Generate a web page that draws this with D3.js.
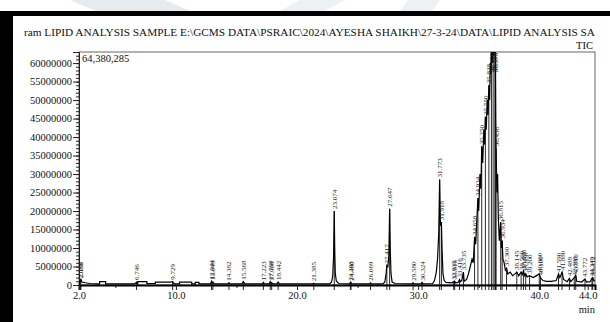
<!DOCTYPE html>
<html>
<head>
<meta charset="utf-8">
<script src="https://cdn.jsdelivr.net/npm/d3@7"></script>
<style>
html,body{margin:0;padding:0;background:#fff;}
svg{display:block;}
text{font-family:"Liberation Serif","Times New Roman",serif;}
</style>
</head>
<body>
<svg id="chart" width="610" height="322"></svg>
<script>
// ---------------- DATA ----------------
const titleText = "ram LIPID ANALYSIS SAMPLE E:\\GCMS DATA\\PSRAIC\\2024\\AYESHA SHAIKH\\27-3-24\\DATA\\LIPID ANALYSIS SA";
const detectorLabel = "TIC";
const maxIntensityLabel = "64,380,285";
const xUnitLabel = "min";

const xTickValues = [2, 10, 20, 30, 40, 44];
const xMinorTicks = [5, 15, 25, 35];
const yTickValues = [0, 5000000, 10000000, 15000000, 20000000, 25000000, 30000000,
                     35000000, 40000000, 45000000, 50000000, 55000000, 60000000];

// TIC trace: retention time (min) and intensity
const traceTimes = [
 2.0, 2.05, 2.088, 2.12, 2.16, 2.25, 2.5, 2.9, 3.5,
 3.7, 3.7, 4.2, 4.2, 6.6, 6.746, 6.85, 6.85, 7.6, 7.6, 8.3, 8.3, 9.55, 9.729, 9.85,
 10.3, 10.3, 11.3, 11.3, 11.6, 11.6, 11.9, 11.9,
 12.85, 12.944, 13.0, 13.049, 13.15, 14.3, 14.382, 14.45, 15.45, 15.568, 15.7,
 17.15, 17.223, 17.3, 17.7, 17.788, 17.85, 17.908, 18.0, 18.35, 18.442, 18.55,
 21.3, 21.385, 21.45, 22.7, 22.85, 22.95, 23.02, 23.074, 23.11, 23.16, 23.25, 23.45,
 24.35, 24.398, 24.43, 24.46, 24.52, 26.0, 26.069, 26.13,
 27.1, 27.25, 27.35, 27.417, 27.5, 27.58, 27.647, 27.7, 27.76, 27.85, 28.1,
 29.5, 29.58, 29.65, 30.25, 30.324, 30.4,
 31.2, 31.35, 31.5, 31.6, 31.7, 31.773, 31.84, 31.918, 31.98, 32.05, 32.15, 32.3,
 32.8, 32.935, 32.98, 33.016, 33.1, 33.3, 33.416, 33.5, 33.6, 33.735, 33.8,
 34.0, 34.15, 34.3, 34.45, 34.55, 34.658, 34.75, 34.85, 34.934, 35.0, 35.1, 35.18,
 35.25, 35.33, 35.42, 35.48, 35.55, 35.62, 35.7, 35.77, 35.838, 35.9, 35.95, 36.0,
 36.05, 36.12, 36.19, 36.26, 36.336, 36.378, 36.41, 36.436, 36.5, 36.56, 36.62, 36.7,
 36.815, 36.87, 36.934, 37.0, 37.1, 37.2, 37.3, 37.4, 37.6, 37.8, 38.0, 38.145, 38.3,
 38.5, 38.6, 38.69, 38.8, 38.88, 39.0, 39.2, 39.5, 39.8, 40.0, 40.1, 40.3, 40.6,
 41.0, 41.4, 41.59, 41.7, 41.88, 42.0, 42.3, 42.488, 42.6, 42.888, 43.01, 43.1,
 43.5, 43.772, 43.9, 44.2, 44.349, 44.412, 44.5, 44.6
];
const traceValues = [
 200000, 1000000, 1200000, 900000, 1500000, 800000, 600000, 400000, 300000,
 300000, 900000, 900000, 300000, 300000, 800000, 400000, 900000, 900000, 400000, 400000, 800000, 800000, 900000, 300000,
 300000, 800000, 800000, 300000, 300000, 700000, 700000, 300000,
 300000, 1000000, 600000, 800000, 300000, 300000, 600000, 300000, 300000, 900000, 300000,
 300000, 700000, 300000, 300000, 900000, 500000, 600000, 300000, 300000, 800000, 300000,
 300000, 500000, 300000, 300000, 800000, 2500000, 8000000, 20000000, 10000000, 3000000, 1000000, 400000,
 300000, 700000, 400000, 600000, 300000, 300000, 600000, 300000,
 300000, 800000, 3000000, 5300000, 5000000, 8000000, 20600000, 9000000, 3000000, 800000, 400000,
 300000, 600000, 300000, 300000, 700000, 300000,
 400000, 1200000, 3500000, 7000000, 14000000, 28500000, 16000000, 17000000, 9000000, 3000000, 1200000, 700000,
 600000, 900000, 600000, 1000000, 600000, 700000, 1500000, 900000, 1200000, 3500000, 1000000,
 1500000, 3000000, 5000000, 7000000, 6000000, 13000000, 11000000, 18000000, 23500000, 20000000, 30000000, 26000000,
 37500000, 33000000, 42000000, 38000000, 45500000, 42000000, 50000000, 46000000, 54000000, 50000000, 60000000, 57000000,
 66000000, 60000000, 66000000, 62000000, 66000000, 66000000, 45000000, 37000000, 25000000, 30000000, 18000000, 12000000,
 17000000, 10000000, 12000000, 7000000, 6000000, 4000000, 4500000, 3000000, 3500000, 2500000, 3000000, 3500000, 2500000,
 3500000, 2800000, 3800000, 2500000, 3000000, 2200000, 2500000, 2000000, 2600000, 3000000, 2000000, 1200000, 1000000,
 1000000, 1200000, 3000000, 2000000, 3500000, 1500000, 900000, 1800000, 900000, 2000000, 2600000, 1000000,
 800000, 1600000, 800000, 900000, 1800000, 2000000, 1200000, 1000000
];

// Labelled peaks (retention time and label)
const peakTimes = [2.088, 2.160, 6.746, 9.729, 12.944, 13.049, 14.382, 15.568, 17.223, 17.788, 17.908, 18.442,
 21.385, 23.074, 24.398, 24.460, 26.069, 27.417, 27.647, 29.580, 30.324, 31.773, 31.918,
 32.935, 33.016, 33.416, 33.735, 34.658, 34.934, 35.250, 35.550, 35.838, 36.050, 36.190, 36.336, 36.378,
 36.436, 36.815, 36.934, 37.300, 38.145, 38.500, 38.690, 38.880, 39.200, 40.000, 40.100,
 41.590, 41.880, 42.488, 42.888, 43.010, 43.772, 44.349, 44.412];
const peakLabels = peakTimes.map(t => t.toFixed(3));

// ---------------- CHART ----------------
const svg = d3.select("#chart");
const W = 610, H = 322;
const plot = {left: 79, right: 595, top: 52, bottom: 285};

// page background, watermark and frame
svg.append("rect").attr("width", W).attr("height", H).attr("fill", "#fff");
svg.append("polygon").attr("points", "70,0 165,0 190,11 95,11").attr("fill", "#e6ebf0");
svg.append("polygon").attr("points", "300,0 345,0 325,11 280,11").attr("fill", "#eef1f4");
svg.append("polygon").attr("points", "408,0 440,0 432,11 400,11").attr("fill", "#eef1f4");
svg.append("rect").attr("x", 0).attr("y", 11).attr("width", W).attr("height", 5).attr("fill", "#000");
svg.append("rect").attr("x", 0).attr("y", 11).attr("width", 13).attr("height", H - 11).attr("fill", "#000");

const x = d3.scaleLinear().domain([2, 44.6]).range([plot.left, plot.right]);
const y = d3.scaleLinear().domain([0, 63000000]).range([plot.bottom, plot.top]);

// title
svg.append("text").attr("x", 24).attr("y", 36)
  .attr("font-size", 10.5).attr("fill", "#111")
  .attr("textLength", 571).attr("lengthAdjust", "spacingAndGlyphs")
  .text(titleText);
svg.append("text").attr("x", 593).attr("y", 49).attr("text-anchor", "end")
  .attr("font-size", 10.5).attr("fill", "#111").text(detectorLabel);

// plot frame
svg.append("rect").attr("x", plot.left).attr("y", plot.top)
  .attr("width", plot.right - plot.left).attr("height", plot.bottom - plot.top)
  .attr("fill", "none").attr("stroke", "#666").attr("stroke-width", 1);

svg.append("text").attr("x", 82).attr("y", 62).attr("font-size", 10.5).attr("fill", "#111")
  .text(maxIntensityLabel);

// clip
svg.append("clipPath").attr("id", "clip").append("rect")
  .attr("x", plot.left).attr("y", plot.top)
  .attr("width", plot.right - plot.left).attr("height", plot.bottom - plot.top + 8);

// y axis
const yMinor = d3.range(0, 63000000, 1000000);
svg.append("g").attr("transform", `translate(${plot.left},0)`)
  .call(d3.axisLeft(y).tickValues(yMinor).tickSize(3).tickFormat(""))
  .call(g => g.select(".domain").remove())
  .selectAll("line").attr("stroke", "#222");
const yAxis = svg.append("g").attr("transform", `translate(${plot.left},0)`)
  .call(d3.axisLeft(y).tickValues(yTickValues).tickSize(6).tickPadding(1).tickFormat(d3.format("d")));
yAxis.select(".domain").attr("stroke", "#222");
yAxis.selectAll("line").attr("stroke", "#222");
yAxis.selectAll("text").attr("font-size", 10.5).attr("fill", "#111");

// trace
const traceData = traceTimes.map((t, i) => [t, traceValues[i]]);
const gPlot = svg.append("g").attr("clip-path", "url(#clip)");

// drop lines for labelled peaks
const interp = t => {
  let i = d3.bisectLeft(traceTimes, t);
  if (i <= 0) return traceValues[0];
  if (i >= traceTimes.length) return traceValues[traceValues.length - 1];
  const t0 = traceTimes[i - 1], t1 = traceTimes[i];
  if (t1 === t0) return traceValues[i];
  return traceValues[i - 1] + (traceValues[i] - traceValues[i - 1]) * (t - t0) / (t1 - t0);
};
const peakValues = peakTimes.map(t => interp(t));

gPlot.selectAll("line.drop").data(peakTimes).join("line")
  .attr("class", "drop")
  .attr("x1", d => x(d)).attr("x2", d => x(d))
  .attr("y1", plot.bottom + 5).attr("y2", (d, i) => y(peakValues[i]))
  .attr("stroke", "#111").attr("stroke-width", 0.9);

gPlot.append("path").datum(traceData)
  .attr("d", d3.line().x(d => x(d[0])).y(d => y(d[1])))
  .attr("fill", "none").attr("stroke", "#000").attr("stroke-width", 1.2);

// x axis
svg.append("g").attr("transform", `translate(0,${plot.bottom})`)
  .call(d3.axisBottom(x).tickValues(xMinorTicks).tickSize(3).tickFormat(""))
  .call(g => g.select(".domain").remove())
  .selectAll("line").attr("stroke", "#222");
const xAxis = svg.append("g").attr("transform", `translate(0,${plot.bottom})`)
  .call(d3.axisBottom(x).tickValues(xTickValues).tickSize(5).tickPadding(2).tickFormat(d3.format(".1f")));
xAxis.select(".domain").attr("stroke", "#000").attr("stroke-width", 2);
xAxis.selectAll("line").attr("stroke", "#222");
xAxis.selectAll("text").attr("font-size", 10.5).attr("fill", "#111");

svg.append("text").attr("x", 595).attr("y", 313).attr("text-anchor", "end")
  .attr("font-size", 10.5).attr("fill", "#111").text(xUnitLabel);

// peak labels (rotated)
svg.append("g").selectAll("text").data(peakTimes).join("text")
  .attr("transform", (d, i) => {
    const v = peakValues[i];
    const clipped = v > 63000000;
    const yy = clipped ? plot.top + 1 : y(v) - 2;
    return `translate(${x(d) + 2.5},${yy}) rotate(-90)`;
  })
  .attr("text-anchor", (d, i) => peakValues[i] > 63000000 ? "end" : "start")
  .attr("font-size", 7).attr("fill", "#222")
  .text((d, i) => peakLabels[i]);
</script>
</body>
</html>
